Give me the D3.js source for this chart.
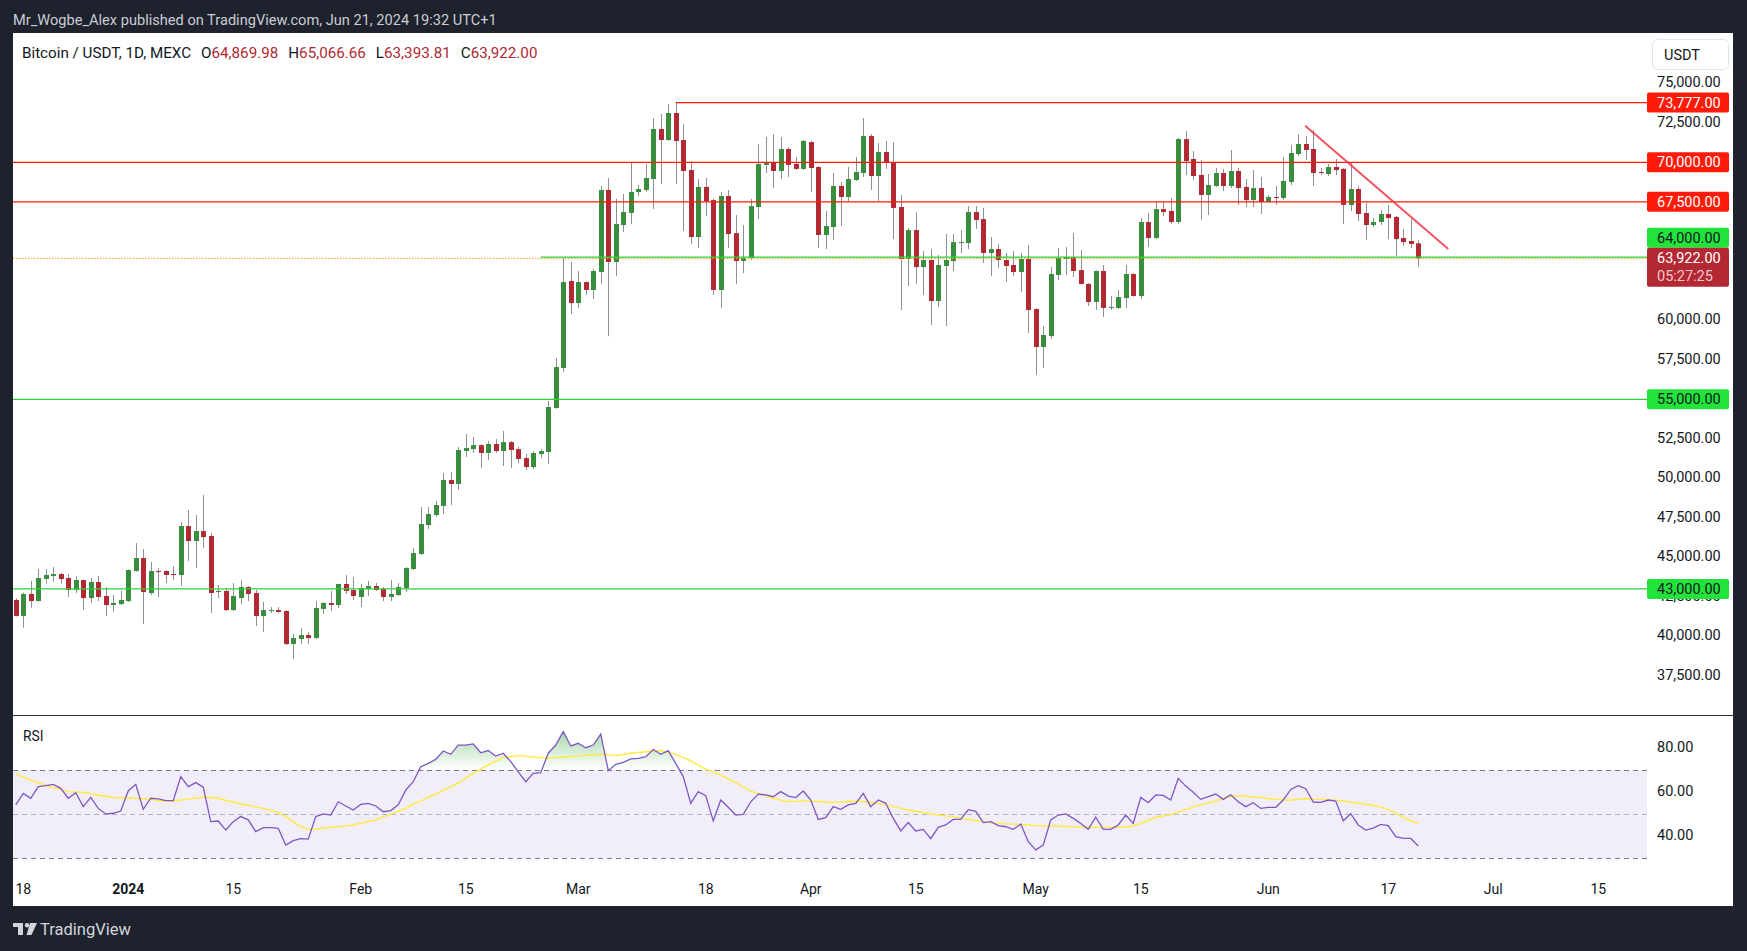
<!DOCTYPE html>
<html lang="en">
<head>
<meta charset="UTF-8">
<title>Bitcoin / USDT, 1D, MEXC</title>
<style>
  body { margin: 0; background: #1e222d; font-family: Roboto, "Noto Sans", Arial, sans-serif; }
  svg { display: block; }
</style>
</head>
<body>
<svg id="chart"></svg>
<script src="https://d3js.org/d3.v7.min.js"></script>
<script>
// ---- data (daily candles from 2023-12-17 to 2024-06-21) ----
const firstDay = Date.UTC(2023, 11, 17);

const opens = [
  42300, 41290, 42680, 42230, 43630, 43815, 43940, 43690, 42930, 43560, 42420, 43435, 42550, 41980, 42040,
  42230, 44130, 44955, 42740, 44130, 44130, 43940, 43880, 46980, 46030, 46660, 46350, 42800, 42870, 41660, 42420, 43120, 42740, 41280, 41600, 41660, 41600, 39510, 39830, 40080, 39890, 41730, 42110, 41980, 43310, 42930,
  42490, 42990, 43180, 42990, 42490, 42610, 43060, 44260, 45210, 47040, 47680, 48250, 49890, 49640, 51730, 51850, 52100, 51600, 52170, 51725, 52290, 51850, 51280, 50710, 51535, 51660, 54450, 56980, 62490,
  61090, 62420, 61920, 63055, 68250, 63690, 66030, 66790, 68120, 68250, 68940, 72110, 71410, 73120, 71410, 69510, 65270, 68440, 67610, 61920, 67870, 65520, 63750, 63940, 67170, 69830, 70020, 69450, 70840, 69890, 69580,
  71280, 69700, 65400, 65900, 68500, 67800, 68880, 69320, 71660, 69130, 70650, 70020, 67170, 63880, 65710, 63370, 63815, 61220, 63435, 63750, 64890, 64890, 66850, 66410, 64260, 64510, 63815, 63500, 63055, 63880,
  60710, 58310, 59000, 62870, 63880, 64005, 63180, 62300, 61160, 63120, 60780, 60780, 61410, 62930, 61540, 66220, 65210, 67040, 66920, 66220, 71470, 70210, 69200, 67930, 68500, 69320, 68500, 69450, 68440, 67610, 68370,
  67490, 67800, 67740, 68750, 70520, 71160, 70840, 69385, 69260, 69700, 69580, 67300, 68310, 66790, 66030, 66220, 66730, 66540, 65210, 65020, 64869.98
];
const highs = [
  42400, 42760, 43500, 44260, 44260, 44385, 44005, 43940, 43815, 43600, 43690, 43815, 43120, 42610, 42870,
  44230, 45900, 45520, 44700, 44320, 44195, 44450, 47230, 47990, 47680, 48940, 46540, 43245, 43060, 43370, 43560, 43180, 42930, 42170, 41850, 41850, 41660, 40140, 40520, 40270, 42230, 42170, 42870, 43330, 43880, 43750,
  43310, 43500, 43370, 43120, 43560, 43370, 44385, 45590, 48180, 48180, 48560, 50335, 50400, 51980, 52800, 52610, 52170, 52360, 52480, 52990, 52360, 51980, 51535, 51725, 51850, 54890, 57610, 63940, 63690,
  63120, 62480, 63245, 68500, 69000, 67680, 67990, 70020, 68560, 69890, 72800, 73060, 73690, 73777, 72420, 70080, 68940, 69010, 67700, 68120, 68250, 66660, 66030, 67680, 71160, 71600, 71790, 71600, 70970, 70335, 71410,
  71350, 69760, 66920, 69320, 68750, 69700, 70335, 72800, 71790, 71220, 71350, 71280, 67930, 65840, 66850, 64385, 64510, 64130, 65460, 65460, 65710, 67230, 67230, 67110, 65270, 64830, 64260, 64385, 64260, 64765,
  60780, 59640, 63370, 64575, 64640, 65520, 64450, 62350, 63150, 63500, 61540, 61920, 63500, 62990, 66470, 66790, 67490, 67490, 67740, 71540, 71980, 70715, 70145, 69260, 69640, 69580, 70780, 69640, 68940, 69510, 69070,
  67930, 68500, 70335, 71090, 71790, 71660, 72040, 69640, 69890, 70210, 69640, 70020, 68500, 67420, 66470, 66980, 67300, 66600, 65780, 66410, 65066.66
];
const lows = [
  41250, 40545, 41810, 42200, 43330, 43435, 43330, 42490, 42740, 41660, 42110, 42230, 41280, 41540, 41980,
  42170, 44100, 40780, 42610, 42490, 43370, 43560, 43180, 44765, 44320, 45590, 41470, 42420, 41600, 41600, 42040, 42230, 40650, 40270, 41470, 41470, 39450, 38560, 39510, 39510, 39830, 41410, 41600, 41790, 42680, 42300,
  41850, 42550, 42870, 42230, 42230, 42550, 42800, 44200, 45150, 46790, 47550, 47740, 48310, 49260, 51350, 51600, 50650, 51155, 51600, 50775, 50650, 50965, 50520, 50585, 51280, 50900, 54400, 56730, 60400,
  60780, 61600, 61350, 62300, 59000, 62800, 65590, 66090, 67870, 68120, 67040, 68630, 71350, 68630, 65650, 64830, 64575, 66600, 61600, 60780, 64575, 62300, 62990, 63815, 66410, 69320, 68370, 68940, 69070, 69520, 69520,
  68120, 64575, 64510, 65080, 65970, 67550, 68820, 69070, 68250, 67550, 69580, 65140, 60650, 62170, 62300, 61600, 59700, 60840, 59640, 63120, 64260, 64510, 65780, 63625, 62800, 63310, 62420, 62800, 61790, 59190,
  56540, 56980, 58810, 62550, 62870, 62740, 62250, 60900, 60650, 60210, 60650, 60710, 60780, 61500, 61350, 64640, 65140, 66600, 66090, 66100, 69200, 68880, 66350, 66660, 68450, 68180, 68370, 67300, 67170, 67170, 66730,
  67450, 67300, 67610, 68560, 70400, 70145, 68500, 69200, 69130, 69200, 66090, 66920, 66280, 65080, 65900, 66030, 65140, 64070, 64700, 64575, 63393.81
];
const closes = [
  41290, 42680, 42230, 43690, 43880, 43940, 43625, 42930, 43560, 42420, 43435, 42490, 41980, 42110, 42300,
  44195, 44955, 42800, 44130, 44070, 43880, 43880, 46980, 46030, 46660, 46280, 42740, 42870, 41660, 42550, 43120, 42680, 41280, 41660, 41660, 41540, 39510, 39890, 40080, 39890, 41790, 42110, 41980, 43310, 42870, 42550,
  43060, 43180, 42930, 42490, 42680, 43120, 44320, 45270, 47110, 47740, 48310, 49890, 49640, 51790, 51915, 52100, 51600, 52170, 51725, 52290, 51790, 51220, 50710, 51600, 51725, 54510, 57040, 62420, 61090,
  62420, 61920, 63120, 68250, 63690, 66090, 66850, 68120, 68310, 69010, 72110, 71410, 73120, 71350, 69450, 65270, 68440, 67550, 61920, 67870, 65460, 63750, 63940, 67230, 69890, 70020, 69450, 70840, 69830, 69580, 71350,
  69640, 65400, 65970, 68500, 67800, 68940, 69385, 71660, 69130, 70650, 70020, 67110, 63880, 65710, 63370, 63815, 61220, 63500, 63815, 64950, 64950, 66850, 66350, 64260, 64510, 63815, 63435, 63055, 63880, 60650,
  58310, 59070, 62930, 63940, 64005, 63120, 62300, 61160, 63120, 60780, 60840, 61470, 62930, 61540, 66220, 65210, 67040, 66850, 66220, 71470, 70080, 69130, 67930, 68560, 69320, 68500, 69450, 68370, 67610, 68370, 67490,
  67800, 67740, 68820, 70590, 71160, 70780, 69320, 69320, 69700, 69510, 67300, 68310, 66730, 66030, 66220, 66730, 66470, 65140, 64950, 64830, 63922.00
];

const rsiValues = [
  54.2, 59.4, 57.2, 62.5, 62.9, 63.5, 61.7, 57.2, 59.7, 53.4, 57.6, 52.6, 50.1, 50.4, 51.4,
  60.5, 63.5, 52.2, 57.2, 56.9, 56.1, 56.1, 67.0, 62.5, 64.3, 62.2, 46.6, 46.9, 42.8, 46.6, 48.9, 47.4, 42.1, 43.9, 43.9, 43.6, 36.0, 38.0, 38.9, 38.7, 48.9, 50.1, 49.6, 55.6, 53.7, 51.9,
  54.4, 54.9, 53.7, 51.1, 51.6, 54.2, 60.9, 64.7, 71.5, 73.0, 74.8, 78.6, 77.1, 81.3, 81.3, 81.8, 77.8, 78.8, 76.3, 77.6, 73.8, 69.2, 64.7, 68.5, 68.8, 77.6, 81.3, 87.4, 80.9,
  82.1, 80.1, 81.3, 86.3, 69.7, 72.6, 73.5, 75.0, 75.3, 76.0, 79.3, 77.1, 78.8, 73.0, 67.0, 54.9, 60.2, 58.4, 46.9, 56.4, 53.1, 49.6, 49.9, 55.6, 59.1, 58.7, 57.9, 60.2, 58.2, 57.5, 60.5,
  56.4, 47.6, 48.4, 53.4, 52.2, 54.2, 54.9, 59.4, 53.4, 56.4, 54.9, 48.1, 42.4, 46.2, 42.4, 43.1, 38.9, 44.0, 45.1, 47.6, 47.6, 52.0, 51.3, 46.2, 46.6, 44.8, 44.3, 43.1, 45.5, 37.5,
  33.8, 36.0, 47.4, 49.6, 50.1, 48.1, 45.8, 43.1, 48.6, 43.1, 43.1, 45.1, 49.6, 45.8, 57.6, 55.2, 58.7, 58.5, 56.4, 66.2, 62.7, 59.9, 56.7, 57.9, 59.1, 56.7, 58.8, 55.6, 53.4, 55.2, 52.6,
  53.1, 53.1, 56.4, 61.2, 62.9, 61.5, 55.5, 55.3, 56.4, 55.9, 47.0, 50.2, 45.1, 42.8, 43.7, 45.4, 44.8, 39.8, 39.0, 39.0, 35.6
];
const rsiMaValues = [
  68.1, 66.9, 65.4, 64.2, 63.1, 62.1, 61.1, 60.2, 60.0, 59.9, 59.3, 58.7, 58.1, 57.5, 57.4,
  57.3, 57.2, 57.0, 56.7, 56.2, 55.8, 56.1, 56.4, 56.8, 57.2, 57.6, 57.4, 57.2, 56.3, 55.5, 54.6, 54.0, 53.3, 52.6, 51.8, 50.7, 48.9, 46.5, 44.5, 43.1, 43.3, 43.6, 44.0, 44.4, 44.7, 45.1,
  45.9, 46.7, 47.3, 48.8, 49.9, 51.4, 52.6, 54.5, 55.9, 57.6, 59.1, 60.8, 62.5, 64.0, 66.3, 68.5, 70.4, 72.3, 74.0, 75.7, 76.1, 76.5, 76.2, 76.0, 75.6, 75.3, 75.6, 76.0, 76.1,
  76.3, 76.6, 76.9, 77.2, 76.8, 76.5, 77.0, 77.6, 78.0, 78.3, 78.5, 78.8, 78.0, 77.1, 75.6, 74.2, 72.2, 70.3, 69.0, 67.7, 66.0, 64.3, 62.3, 60.4, 59.4, 58.3, 57.2, 56.4, 55.7, 55.8, 56.0,
  55.8, 55.7, 55.5, 55.4, 55.5, 55.7, 55.7, 55.7, 55.3, 54.9, 54.2, 53.4, 52.6, 51.9, 51.3, 50.7, 50.1, 49.6, 49.2, 48.9, 48.2, 47.6, 47.1, 46.6, 46.2, 45.8, 45.6, 45.5, 45.3, 45.1,
  44.8, 44.6, 44.6, 44.6, 44.4, 44.3, 44.1, 44.0, 44.0, 44.0, 44.0, 44.0, 44.3, 44.6, 45.8, 47.2, 48.6, 49.2, 49.8, 51.0, 52.2, 53.2, 54.2, 55.1, 56.1, 57.1, 58.2, 58.2, 58.1, 57.8, 57.6,
  57.1, 56.7, 56.5, 56.4, 56.7, 57.0, 56.8, 56.7, 56.5, 56.4, 56.0, 55.5, 55.0, 54.6, 53.9, 53.1, 52.2, 50.4, 48.6, 46.9, 45.8
];

// drawn levels
const resistanceLevels = [73777, 70000, 67500];
const resistanceStarts = ["2024-03-14", null, null];
const supportLevels = [64000, 55000, 43000];
const supportStarts = ["2024-02-25", null, null];
const trendDates = ["2024-06-05T22:00:00Z", "2024-06-25T00:00:00Z"];
const trendValues = [72320, 64510];
const countdown = "05:27:25";

// axis labels
const timeTickDates = ["2023-12-18", "2024-01-01", "2024-01-15", "2024-02-01", "2024-02-15", "2024-03-01", "2024-03-18",
  "2024-04-01", "2024-04-15", "2024-05-01", "2024-05-15", "2024-06-01", "2024-06-17", "2024-07-01", "2024-07-15"];
const timeTickLabels = ["18", "2024", "15", "Feb", "15", "Mar", "18", "Apr", "15", "May", "15", "Jun", "17", "Jul", "15"];
const priceTicks = d3.range(37500, 75001, 2500);
const rsiTicks = [40, 60, 80];

// ---- layout ----
const W = 1747, H = 951;
const plotLeft = 13, plotRight = 1647;
const priceTop = 34, priceBottom = 715;
const rsiTop = 715, rsiBottom = 873;
const axisTextX = 1657;

const candles = closes.map((c, i) => ({
  date: new Date(firstDay + i * 864e5),
  o: opens[i], h: highs[i], l: lows[i], c: c,
  rsi: rsiValues[i], ma: rsiMaValues[i]
}));

const x = d3.scaleUtc()
  .domain([new Date(Date.UTC(2023, 11, 16, 16, 48)), new Date(Date.UTC(2024, 6, 21, 12))])
  .range([13.5, plotRight]);
const y = d3.scaleLinear().domain([35019, 78120]).range([priceBottom, priceTop]);
const yRsi = d3.scaleLinear().domain([30, 70]).range([858.3, 770]);

const fmt = d3.format(",.2f");
const green = "#388e3c", red = "#b22833", wick = "#8e9099";

const svg = d3.select("#chart").attr("width", W).attr("height", H);
svg.append("rect").attr("width", W).attr("height", H).attr("fill", "#1e222d");
svg.append("rect").attr("x", 13).attr("y", 33).attr("width", 1720).attr("height", 873).attr("fill", "#ffffff");

const defs = svg.append("defs");
defs.append("clipPath").attr("id", "clipPrice").append("rect")
  .attr("x", plotLeft).attr("y", priceTop).attr("width", plotRight - plotLeft).attr("height", priceBottom - priceTop);
defs.append("clipPath").attr("id", "clipRsi").append("rect")
  .attr("x", plotLeft).attr("y", rsiTop).attr("width", plotRight - plotLeft).attr("height", rsiBottom - rsiTop);
defs.append("clipPath").attr("id", "clipOb").append("rect")
  .attr("x", plotLeft).attr("y", rsiTop).attr("width", plotRight - plotLeft).attr("height", yRsi(70) - rsiTop);
const grad = defs.append("linearGradient").attr("id", "obFill")
  .attr("gradientUnits", "userSpaceOnUse").attr("x1", 0).attr("x2", 0)
  .attr("y1", yRsi(90)).attr("y2", yRsi(70));
grad.append("stop").attr("offset", 0).attr("stop-color", "#4caf50").attr("stop-opacity", 0.55);
grad.append("stop").attr("offset", 1).attr("stop-color", "#4caf50").attr("stop-opacity", 0);

// header
svg.append("text").attr("x", 13).attr("y", 25).attr("fill", "#c9ccd4").attr("font-size", 14.6)
  .text("Mr_Wogbe_Alex published on TradingView.com, Jun 21, 2024 19:32 UTC+1");

// ---- price pane ----
const price = svg.append("g").attr("clip-path", "url(#clipPrice)");

const cg = price.append("g").selectAll("g").data(candles).join("g");
cg.append("line")
  .attr("x1", d => Math.round(x(d.date)) + 0.5).attr("x2", d => Math.round(x(d.date)) + 0.5)
  .attr("y1", d => y(d.h)).attr("y2", d => y(d.l))
  .attr("stroke", wick).attr("stroke-width", 1);
cg.append("rect")
  .attr("x", d => Math.round(x(d.date)) - 2).attr("width", 5)
  .attr("y", d => y(Math.max(d.o, d.c)))
  .attr("height", d => Math.max(1, Math.abs(y(d.o) - y(d.c))))
  .attr("fill", d => d.c >= d.o ? green : red);

const last = candles[candles.length - 1];

// current price dotted line
price.append("line").attr("x1", plotLeft).attr("x2", plotRight)
  .attr("y1", y(last.c)).attr("y2", y(last.c))
  .attr("stroke", "#ff9800").attr("stroke-width", 1).attr("stroke-dasharray", "1.5,1.5");

function levelLine(v, start, color) {
  price.append("line")
    .attr("x1", start ? x(new Date(start)) : plotLeft).attr("x2", plotRight)
    .attr("y1", y(v)).attr("y2", y(v))
    .attr("stroke", color).attr("stroke-width", 1.3);
}
resistanceLevels.forEach((v, i) => levelLine(v, resistanceStarts[i], "#ff1a0a"));
supportLevels.forEach((v, i) => levelLine(v, supportStarts[i], "#2fd13c"));

// trend line
price.append("line")
  .attr("x1", x(new Date(trendDates[0]))).attr("y1", y(trendValues[0]))
  .attr("x2", x(new Date(trendDates[1]))).attr("y2", y(trendValues[1]))
  .attr("stroke", "#f23645").attr("stroke-width", 2).attr("stroke-opacity", 0.85);

// legend
const legend = svg.append("text").attr("x", 22).attr("y", 58).attr("font-size", 15.2).attr("fill", "#131722");
legend.append("tspan").text("Bitcoin / USDT, 1D, MEXC");
[["O", last.o], ["H", last.h], ["L", last.l], ["C", last.c]].forEach(([k, v]) => {
  legend.append("tspan").attr("dx", 10).text(k);
  legend.append("tspan").attr("fill", red).text(fmt(v));
});

// labels on the price scale (boxes)
const curTop = y(last.c) - 10.6, curBottom = y(last.c) + 28.4;
const boxes = [];
resistanceLevels.forEach(v => boxes.push({ v, fill: "#ff1a0a", color: "#ffffff" }));
supportLevels.forEach(v => boxes.push({ v, fill: "#22e33a", color: "#131722" }));
boxes.forEach(b => {
  b.cy = y(b.v);
  if (b.cy + 10 > curTop && b.cy - 10 < curBottom) b.cy = curTop - 10;
});

// price scale ticks, skipping the ones a box hides completely
const hidden = t => boxes.some(b => Math.abs(y(t) - b.cy) < 6) ||
  (y(t) > curTop - 3 && y(t) < curBottom - 3);
svg.append("g").selectAll("text").data(priceTicks.filter(t => !hidden(t))).join("text")
  .attr("x", axisTextX).attr("y", d => y(d) - 1).attr("dy", "0.35em")
  .attr("font-size", 14.5).attr("fill", "#131722").text(d => fmt(d));

boxes.forEach(b => {
  svg.append("rect").attr("x", plotRight).attr("y", b.cy - 10).attr("width", 82).attr("height", 20).attr("rx", 2).attr("fill", b.fill);
  svg.append("text").attr("x", axisTextX).attr("y", b.cy).attr("dy", "0.35em").attr("font-size", 14.5)
    .attr("fill", b.color).text(fmt(b.v));
});

svg.append("rect").attr("x", plotRight).attr("y", curTop).attr("width", 82).attr("height", curBottom - curTop)
  .attr("rx", 2).attr("fill", red);
svg.append("text").attr("x", axisTextX).attr("y", y(last.c)).attr("dy", "0.35em").attr("font-size", 14.5)
  .attr("fill", "#ffffff").text(fmt(last.c));
svg.append("text").attr("x", axisTextX).attr("y", y(last.c) + 17.5).attr("dy", "0.35em").attr("font-size", 14.5)
  .attr("fill", "#f4c6cc").text(countdown);

// USDT button
svg.append("rect").attr("x", 1652.5).attr("y", 39.5).attr("width", 76).attr("height", 30).attr("rx", 5)
  .attr("fill", "#fff").attr("stroke", "#e0e3eb");
svg.append("text").attr("x", 1664).attr("y", 55).attr("dy", "0.35em").attr("font-size", 14.5)
  .attr("fill", "#131722").text("USDT");

// pane separator
svg.append("line").attr("x1", 13).attr("x2", 1733).attr("y1", priceBottom + 0.5).attr("y2", priceBottom + 0.5)
  .attr("stroke", "#2a2e39").attr("stroke-width", 1);

// ---- RSI pane ----
const rsiG = svg.append("g").attr("clip-path", "url(#clipRsi)");
rsiG.append("rect").attr("x", plotLeft).attr("width", plotRight - plotLeft)
  .attr("y", yRsi(70)).attr("height", yRsi(30) - yRsi(70)).attr("fill", "#7e57c2").attr("fill-opacity", 0.1);
[[70, "#787b86"], [50, "#b2b5be"], [30, "#787b86"]].forEach(([v, c]) => {
  rsiG.append("line").attr("x1", plotLeft).attr("x2", plotRight)
    .attr("y1", Math.round(yRsi(v)) + 0.5).attr("y2", Math.round(yRsi(v)) + 0.5)
    .attr("stroke", c).attr("stroke-width", 1).attr("stroke-dasharray", "5,4");
});

rsiG.append("path").datum(candles).attr("clip-path", "url(#clipOb)")
  .attr("fill", "url(#obFill)")
  .attr("d", d3.area().x(d => x(d.date)).y0(yRsi(70)).y1(d => yRsi(d.rsi)));
rsiG.append("path").datum(candles)
  .attr("fill", "none").attr("stroke", "#ffeb3b").attr("stroke-width", 1.4)
  .attr("d", d3.line().x(d => x(d.date)).y(d => yRsi(d.ma)));
rsiG.append("path").datum(candles)
  .attr("fill", "none").attr("stroke", "#7e57c2").attr("stroke-width", 1.3)
  .attr("d", d3.line().x(d => x(d.date)).y(d => yRsi(d.rsi)));

svg.append("text").attr("x", 23).attr("y", 741).attr("font-size", 13.8).attr("fill", "#131722").text("RSI");

svg.append("g").selectAll("text").data(rsiTicks).join("text")
  .attr("x", axisTextX).attr("y", d => yRsi(d) - 1).attr("dy", "0.35em")
  .attr("font-size", 14.5).attr("fill", "#131722").text(d => d.toFixed(2));

// ---- time axis ----
svg.append("g").selectAll("text").data(timeTickDates.map((d, i) => ({ d: new Date(d), t: timeTickLabels[i] }))).join("text")
  .attr("x", d => x(d.d)).attr("y", 889).attr("dy", "0.35em").attr("text-anchor", "middle")
  .attr("font-size", 14).attr("font-weight", d => d.t === "2024" ? "bold" : "normal")
  .attr("fill", "#131722").text(d => d.t);

// footer logo
const logo = svg.append("g").attr("fill", "#d1d4dc");
logo.append("rect").attr("x", 13).attr("y", 923).attr("width", 10).attr("height", 4);
logo.append("rect").attr("x", 18).attr("y", 923).attr("width", 5).attr("height", 12);
logo.append("circle").attr("cx", 27).attr("cy", 925.2).attr("r", 2.2);
logo.append("path").attr("d", "M30,923 L37,923 L31.5,935 L26.5,935 Z");
svg.append("text").attr("x", 40).attr("y", 929).attr("dy", "0.35em").attr("font-size", 16.5)
  .attr("fill", "#d1d4dc").text("TradingView");
</script>
</body>
</html>
